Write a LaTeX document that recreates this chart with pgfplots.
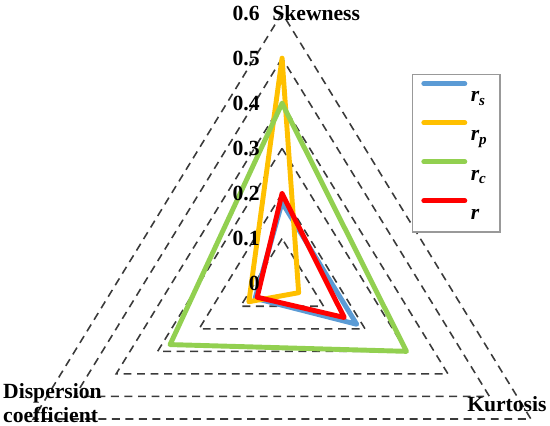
\documentclass[border=0pt]{standalone}
\usepackage{fontspec}
\setmainfont{Liberation Serif}
\usepackage{pgfplots}
\pgfplotsset{compat=1.18}

\definecolor{cS}{HTML}{5B9BD5}
\definecolor{cP}{HTML}{FFC000}
\definecolor{cC}{HTML}{92D050}
\definecolor{cR}{HTML}{FF0000}
\definecolor{gridc}{HTML}{3A3A3A}

\pgfplotsset{
  grid tri/.style={gridc, line width=0.9pt, dash pattern=on 4.5pt off 3.2pt, data cs=polar},
  series/.style={#1, line width=2.8pt, line join=round, line cap=round, data cs=polar},
}
\tikzset{lbl/.style={font=\fontsize{12.3}{13.8}\selectfont\bfseries, inner sep=0pt}}

\begin{document}
\begin{tikzpicture}
\begin{axis}[
  width=11cm, height=8.5cm, scale only axis,
  xmin=-0.589, xmax=0.5595, ymin=-0.3133, ymax=0.629,
  hide axis, clip=false,
  legend style={at={(axis cs:0.271,0.466)}, anchor=north west,
    draw=gray!80, line width=0.8pt, fill=white,
    font=\fontsize{12.3}{13.8}\selectfont\bfseries\itshape,
    inner xsep=5pt, inner ysep=4pt, row sep=6.9pt,
    cells={anchor=west}},
  legend image code/.code={\draw[#1, line cap=round] (0cm,0.29cm) -- (0.82cm,0.29cm);},
]
% dashed triangular grid, 0.1 ... 0.6
\addplot[grid tri, forget plot] coordinates {(90,0.1) (210,0.1) (330,0.1) (90,0.1)};
\addplot[grid tri, forget plot] coordinates {(90,0.2) (210,0.2) (330,0.2) (90,0.2)};
\addplot[grid tri, forget plot] coordinates {(90,0.3) (210,0.3) (330,0.3) (90,0.3)};
\addplot[grid tri, forget plot] coordinates {(90,0.4) (210,0.4) (330,0.4) (90,0.4)};
\addplot[grid tri, forget plot] coordinates {(90,0.5) (210,0.5) (330,0.5) (90,0.5)};
\addplot[grid tri, forget plot] coordinates {(90,0.6) (210,0.6) (330,0.6) (90,0.6)};

% series: (angle, value) -- 90 skewness, 210 dispersion coefficient, 330 kurtosis
\addplot[series=cS] coordinates {(90,0.18) (210,0.065) (330,0.18) (90,0.18)};
\addlegendentry{r\textsubscript{s}}
\addplot[series=cP] coordinates {(90,0.5) (210,0.08) (330,0.04) (90,0.5)};
\addlegendentry{r\textsubscript{p}}
\addplot[series=cC] coordinates {(90,0.4) (210,0.27) (330,0.3) (90,0.4)};
\addlegendentry{r\textsubscript{c}}
\addplot[series=cR] coordinates {(90,0.2) (210,0.06) (330,0.15) (90,0.2)};
\addlegendentry{r}

% value labels along the top spoke
\pgfplotsinvokeforeach{0,0.1,0.2,0.3,0.4,0.5,0.6}{
  \node[lbl, anchor=east] at (axis cs:-0.046,#1) {#1};
}
\node[lbl, anchor=west] at (axis cs:-0.021,0.6) {Skewness};
\node[lbl, anchor=west, align=left] at (axis cs:-0.583,-0.264) {Dispersion\\coefficient};
\node[lbl, anchor=east] at (axis cs:0.553,-0.268) {Kurtosis};

\path (rel axis cs:0,0) rectangle (rel axis cs:1,1);
\end{axis}
\end{tikzpicture}
\end{document}
